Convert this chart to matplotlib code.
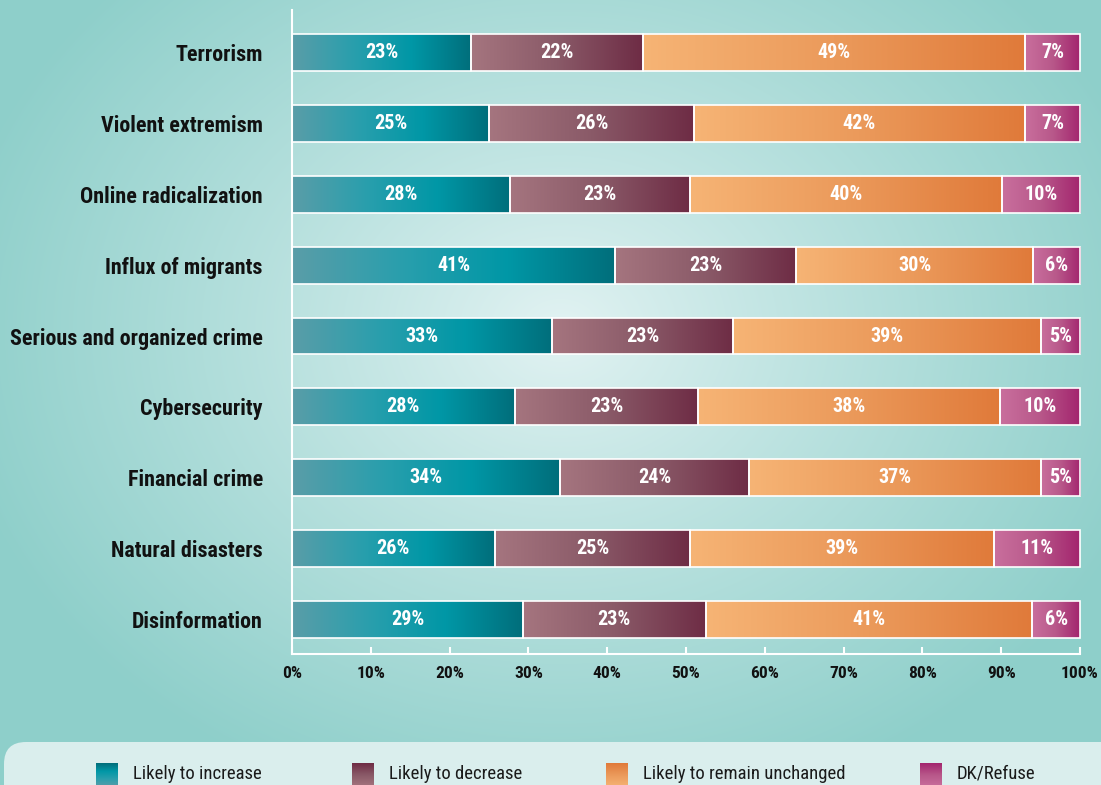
import numpy as np
import matplotlib
matplotlib.use('Agg')
import matplotlib.pyplot as plt
from matplotlib import font_manager as fm
from matplotlib.colors import LinearSegmentedColormap, to_rgb
from matplotlib.patches import FancyBboxPatch

# ---------------- data ----------------
categories = ["Terrorism", "Violent extremism", "Online radicalization",
              "Influx of migrants", "Serious and organized crime",
              "Cybersecurity", "Financial crime", "Natural disasters",
              "Disinformation"]
increase = [23, 25, 28, 41, 33, 28, 34, 26, 29]
decrease = [22, 26, 23, 23, 23, 23, 24, 25, 23]
unchanged = [49, 42, 40, 30, 39, 38, 37, 39, 41]
dk_refuse = [7, 7, 10, 6, 5, 10, 5, 11, 6]
series_names = ["Likely to increase", "Likely to decrease",
                "Likely to remain unchanged", "DK/Refuse"]
x_ticks = [0, 10, 20, 30, 40, 50, 60, 70, 80, 90, 100]
x_tick_labels = ["0%", "10%", "20%", "30%", "40%", "50%", "60%", "70%",
                 "80%", "90%", "100%"]

# ---------------- fonts ----------------
names = {f.name for f in fm.fontManager.ttflist}
FAM = 'Roboto Condensed' if 'Roboto Condensed' in names else 'Roboto'
plt.rcParams['font.family'] = [FAM, 'DejaVu Sans']

# ---------------- colours ----------------
grad_colors = [
    ["#5a9da8", "#2a9fad", "#0097a6", "#006e7b"],
    ["#a5757f", "#8a5a68", "#6e2c45"],
    ["#f6b475", "#eb9a5b", "#e07a3a"],
    ["#c96f9d", "#b8588a", "#a3256e"],
]
cmaps = [LinearSegmentedColormap.from_list(f"g{i}", c) for i, c in enumerate(grad_colors)]

W, H = 1101, 785
fig = plt.figure(figsize=(W / 100, H / 100), dpi=100)

# ---------------- background ----------------
bg = fig.add_axes([0, 0, 1, 1], zorder=-10)
bg.set_xlim(0, W)
bg.set_ylim(H, 0)
bg.axis('off')
yy, xx = np.mgrid[0:H, 0:W]
d = np.sqrt(((xx - 560) / 620.0) ** 2 + ((yy - 330) / 500.0) ** 2)
d = np.clip(d, 0, 1) ** 0.9
c0 = np.array(to_rgb("#e3f3f3"))
c1 = np.array(to_rgb("#8ecfca"))
img = c0[None, None, :] * (1 - d[..., None]) + c1[None, None, :] * d[..., None]
bg.imshow(img, extent=[0, W, H, 0], aspect='auto', zorder=0)

# legend box
box = FancyBboxPatch((4, 742), W + 40, 80, boxstyle="round,pad=0,rounding_size=22",
                     facecolor="#daeeed", edgecolor='none', zorder=1)
bg.add_patch(box)
leg_x = [96, 352, 606, 920]
vgrad = np.linspace(1, 0, 64).reshape(-1, 1)
for i, (lx, name) in enumerate(zip(leg_x, series_names)):
    bg.imshow(vgrad, extent=[lx, lx + 22, 786, 763], cmap=cmaps[i], aspect='auto',
              zorder=2, vmin=-0.05, vmax=1.0)
    bg.text(lx + 37, 774, name, fontsize=13.5, color="#1a1a1a", va='center',
            ha='left', zorder=3)
bg.set_xlim(0, W)
bg.set_ylim(H, 0)

# ---------------- main axes ----------------
ax = fig.add_axes([292 / W, 1 - 654 / H, (1080 - 292) / W, (654 - 10) / H])
ax.set_facecolor('none')

data = np.array([increase, decrease, unchanged, dk_refuse], dtype=float)
totals = data.sum(axis=0)
norm = data / totals * 100
ypos = np.arange(len(categories))
bh = 0.52
hgrad = np.linspace(0, 1, 256).reshape(1, -1)
left = np.zeros(len(categories))
for s in range(4):
    bars = ax.barh(ypos, norm[s], left=left, height=bh, facecolor='none',
                   edgecolor='white', linewidth=1.2, zorder=3, clip_on=False)
    for j, p in enumerate(bars.patches):
        l = left[j]
        r = l + norm[s][j]
        im = ax.imshow(hgrad, extent=[l, r, ypos[j] + bh / 2, ypos[j] - bh / 2],
                       cmap=cmaps[s], aspect='auto', zorder=2)
        im.set_clip_path(p)
        ax.text((l + r) / 2, ypos[j], f"{int(data[s][j])}%", ha='center',
                va='center', color='white', fontsize=14.5, fontweight='bold',
                zorder=4)
    left = left + norm[s]

ax.set_xlim(0, 100)
ax.set_ylim(8.487, -0.6)
ax.set_aspect('auto')

ax.set_yticks(ypos)
ax.set_yticklabels(categories, fontsize=15.8, fontweight='bold', color='#111111')
ax.tick_params(axis='y', length=0, pad=21)
ax.set_xticks(x_ticks)
ax.set_xticklabels(x_tick_labels, fontsize=12.5, fontweight='bold', color='#111111')
ax.tick_params(axis='x', direction='in', length=5, width=1.5, color='white', pad=9)
for sp in ['top', 'right']:
    ax.spines[sp].set_visible(False)
for sp in ['left', 'bottom']:
    ax.spines[sp].set_color('white')
    ax.spines[sp].set_linewidth(1.5)

fig.savefig("out.png", dpi=100)
